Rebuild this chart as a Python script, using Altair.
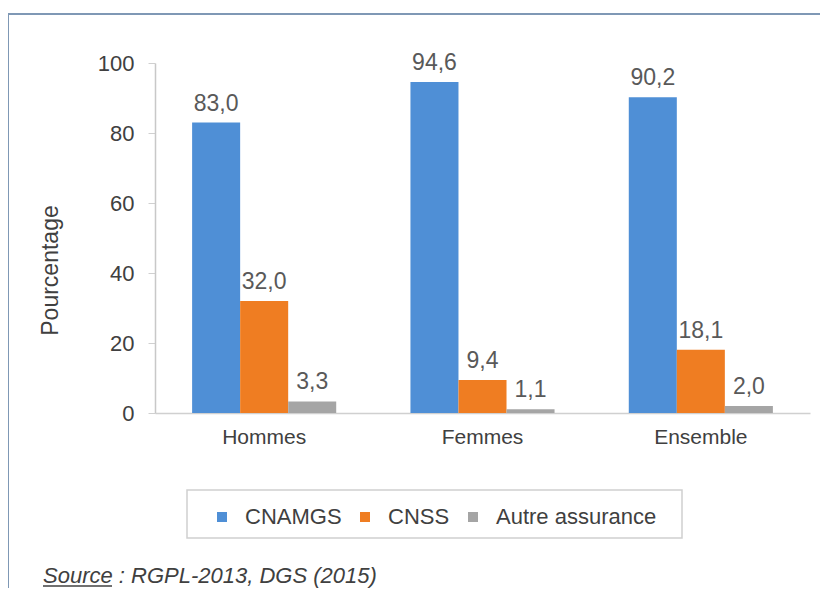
import altair as alt
import pandas as pd

groups = ["Hommes", "Femmes", "Ensemble"]
series = ["CNAMGS", "CNSS", "Autre assurance"]
cnamgs = [83.0, 94.6, 90.2]
cnss = [32.0, 9.4, 18.1]
autre = [3.3, 1.1, 2.0]
colors = ["#4f8fd6", "#ef7d22", "#a5a5a5"]
y_ticks = [0, 20, 40, 60, 80, 100]
y_title = "Pourcentage"
source_text = "Source : RGPL-2013, DGS (2015)"

rows = []
for s, vals in zip(series, [cnamgs, cnss, autre]):
    for g, v in zip(groups, vals):
        rows.append({"groupe": g, "serie": s, "valeur": v,
                     "label": f"{v:.1f}".replace(".", ",")})
df = pd.DataFrame(rows)
one = pd.DataFrame({"k": [0]})

FONT = "Liberation Sans"

x_enc = alt.X("groupe:N", sort=groups, title=None,
              scale=alt.Scale(paddingInner=0.34, paddingOuter=0.17),
              axis=alt.Axis(labelAngle=0, labelFontSize=21, labelColor="#404040",
                            labelPadding=13, ticks=False, domainColor="#d0d0d0",
                            domainWidth=1.5, labelFont=FONT))
xoff = alt.XOffset("serie:N", sort=series, scale=alt.Scale(paddingInner=0, paddingOuter=0))
y_enc = alt.Y("valeur:Q", scale=alt.Scale(domain=[0, 100]),
              axis=alt.Axis(values=y_ticks, grid=False, title=y_title,
                            labelFontSize=22, labelColor="#404040", labelFont=FONT,
                            tickSize=7, tickColor="#d0d0d0", labelPadding=14,
                            domainColor="#c8c8c8", domainWidth=1.5,
                            titleFontSize=23, titleFontWeight="normal", titleColor="#404040",
                            titleFont=FONT, titleX=-105, titleY=207, titleAngle=270,
                            titleAlign="center", titleBaseline="middle"))
color_enc = alt.Color("serie:N", sort=series,
                      scale=alt.Scale(domain=series, range=colors),
                      legend=alt.Legend(title=None, orient="none", direction="horizontal",
                                        legendX=56, legendY=443, padding=0,
                                        symbolType="square", symbolSize=100,
                                        symbolStrokeWidth=0, labelFontSize=22,
                                        labelColor="#404040", labelFont=FONT,
                                        labelLimit=400,
                                        labelOffset=12, columnPadding=12))

bars = alt.Chart(df).mark_bar().encode(x=x_enc, xOffset=xoff, y=y_enc, color=color_enc)

labels = alt.Chart(df).mark_text(baseline="bottom", dy=-7, fontSize=23, color="#595959",
                                 font=FONT).encode(
    x=alt.X("groupe:N", sort=groups), xOffset=alt.XOffset("serie:N", sort=series),
    y="valeur:Q", text="label:N")

frame = alt.Chart(one).mark_rect(fill=None, stroke="#7f98b5", strokeWidth=2).encode(
    x=alt.value(-147), x2=alt.value(690), y=alt.value(-49), y2=alt.value(560))

legend_box = alt.Chart(one).mark_rect(fill=None, stroke="#d0d0d0", strokeWidth=1.5).encode(
    x=alt.value(32), x2=alt.value(527), y=alt.value(427), y2=alt.value(475))

source = alt.Chart(one).mark_text(align="left", baseline="alphabetic", fontSize=22,
                                  fontStyle="italic", color="#404040", font=FONT).encode(
    x=alt.value(-112), y=alt.value(520), text=alt.value(source_text))

underline = alt.Chart(one).mark_rule(color="#404040", strokeWidth=1.3).encode(
    x=alt.value(-112), x2=alt.value(-43), y=alt.value(523))

chart = alt.layer(frame, legend_box, bars, labels, source, underline).properties(
    width=655, height=350,
    autosize=alt.AutoSizeParams(type="none"),
    padding={"left": 147, "top": 55, "right": 10, "bottom": 175},
    background="white",
).configure_view(stroke=None)

chart.save("out.html", embed_options={"renderer": "svg", "actions": False})
